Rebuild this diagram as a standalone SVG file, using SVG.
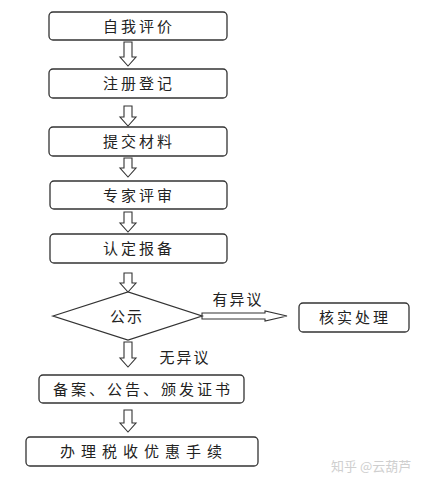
<svg xmlns="http://www.w3.org/2000/svg" width="425" height="484" viewBox="0 0 425 484">
<style>
.box{fill:#fff;stroke:#333;stroke-width:1.3}
.arr{fill:#fff;stroke:#333;stroke-width:1.1;stroke-linejoin:miter}
.t{font-family:"Noto Sans CJK SC",sans-serif;font-size:15px;fill:#222;text-anchor:middle}
.wm{font-family:"Noto Sans CJK SC",sans-serif;font-size:13px;fill:#cfcfcf}
</style>
<rect width="425" height="484" fill="#fff"/>
<g id="connectors">
<path class="arr" d="M124 42H132V57H136L128 66L120 57H124Z"/>
<path class="arr" d="M124 106H132V117H136L128 126L120 117H124Z"/>
<path class="arr" d="M124 158H132V168H136L128 177L120 168H124Z"/>
<path class="arr" d="M124 212H132V223H136L128 232L120 223H124Z"/>
<path class="arr" d="M124 273H132V283H136L128 292L120 283H124Z"/>
<path class="arr" d="M124 342H132V358H136L128 367L120 358H124Z"/>
<path class="arr" d="M124 410H132V423H136L128 432L120 423H124Z"/>
<path class="arr" d="M202 313H265V311L287 316L265 321V319H202Z"/>
<text class="t" x="238" y="305" style="letter-spacing:2px">有异议</text>
<text class="t" x="185" y="363" style="letter-spacing:2px">无异议</text>
</g>
<g id="n1"><rect class="box" x="49" y="12" width="178" height="28" rx="4"/><text class="t" x="139" y="32" style="letter-spacing:3px">自我评价</text></g>
<g id="n2"><rect class="box" x="49" y="69" width="178" height="29" rx="4"/><text class="t" x="139" y="89" style="letter-spacing:3px">注册登记</text></g>
<g id="n3"><rect class="box" x="49" y="127" width="178" height="29" rx="4"/><text class="t" x="139" y="147" style="letter-spacing:3px">提交材料</text></g>
<g id="n4"><rect class="box" x="50" y="181" width="177" height="28" rx="4"/><text class="t" x="139" y="201" style="letter-spacing:3px">专家评审</text></g>
<g id="n5"><rect class="box" x="50" y="234" width="177" height="29" rx="4"/><text class="t" x="139" y="254" style="letter-spacing:3px">认定报备</text></g>
<g id="n6"><polygon class="box" points="53,316 128,292 202,316 128,340"/><text class="t" x="127" y="322" style="letter-spacing:2px">公示</text></g>
<g id="n7"><rect class="box" x="299" y="303" width="110" height="29" rx="4"/><text class="t" x="355" y="323" style="letter-spacing:3px">核实处理</text></g>
<g id="n8"><rect class="box" x="39" y="375" width="205" height="28" rx="4"/><text class="t" x="143" y="395" style="letter-spacing:3px">备案、公告、颁发证书</text></g>
<g id="n9"><rect class="box" x="26" y="437" width="232" height="29" rx="4"/><text class="t" x="144" y="457" style="letter-spacing:6px">办理税收优惠手续</text></g>
<text class="wm" x="331" y="471">知乎 @云葫芦</text>
</svg>
